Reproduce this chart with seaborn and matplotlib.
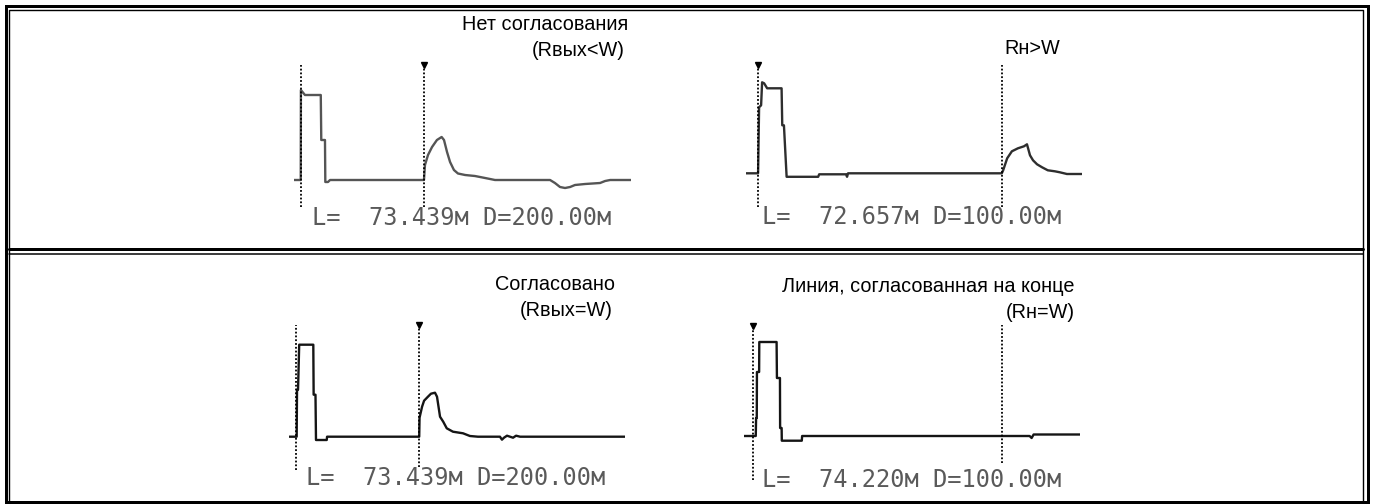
import numpy as np
import pandas as pd
import seaborn as sns
import matplotlib.pyplot as plt
from matplotlib.patches import Rectangle

W, H = 1376, 504

# Reflectogram traces: distance along the line (m) and amplitude (screen units)
x1 = [0, 4.0, 4.1, 6.5, 15.9, 16.2, 18.4, 18.6, 20.2, 21.4, 77.2, 77.8, 79.6, 82.0, 84.9, 87.7, 89.1, 90.9, 92.7, 95.0,
      97.4, 101.6, 107.5, 113.5, 119.4, 152.1, 155.0, 158.0, 161.0, 164.0, 166.9, 172.9, 181.8, 184.8, 187.8, 200]
y1 = [0, 0, 90, 85, 85, 40, 40, -2, -2, 0, 0, 15, 25, 33, 40, 43, 40, 28, 18, 10,
      6.5, 5, 4, 2, 0, 0, -3, -7, -8, -7, -5, -4, -3, -1, 0, 0]

x2 = [0, 3.6, 3.9, 4.5, 4.8, 5.4, 6.3, 10.6, 10.8, 11.3, 12.1, 21.5, 21.8, 29.8, 30.1, 30.4, 76.2, 76.6, 77.8, 79.2,
      81.0, 82.8, 83.7, 84.6, 85.5, 86.7, 88.2, 89.9, 92.0, 93.5, 95.6, 100]
y2 = [0, 0, 66, 68, 91, 90, 85, 85, 48, 48, -3.5, -3.5, -1, -1, -3.5, 0, 0, 3, 15, 22,
      25, 27, 29, 18, 13, 9, 6, 3, 2, 1, -0.7, -0.7]

x3 = [0, 4.4, 4.6, 5.2, 5.9, 14.3, 14.5, 15.6, 15.9, 22.3, 22.5, 77.4, 77.6, 79.1, 80.3, 82.6, 84.4, 86.8, 88.0, 89.8,
      91.7, 93.8, 97.5, 103.5, 107.6, 112.4, 125.5, 126.7, 127.9, 129.7, 131.5, 133.3, 135.1, 137.5, 200]
y3 = [0, 0, 47, 47, 92, 92, 42, 42, -3.3, -3.3, 0, 0, 19, 30, 36, 40, 43, 44, 40, 20,
      15, 8.4, 5, 3.4, 0.7, 0, 0, -3, -1, 1, 0, -1, 1, 0, 0]

x4 = [0, 3.5, 3.6, 3.8, 3.85, 4.5, 4.55, 9.7, 9.8, 10.7, 10.75, 11.2, 11.25, 17.2, 17.3, 85.0, 85.6, 86.2, 100]
y4 = [0, 0, 18, 18, 64, 64, 94, 94, 58, 58, 8, 8, -4.7, -4.7, 0, 0, -2, 1.5, 1.5]

cursor1 = [4.0, 3.6, 3.8, 2.6]           # left cursor, m
dist_L = [73.439, 72.657, 73.439, 74.220]  # L readout, m
range_D = [200, 100, 200, 100]            # D readout (screen range), m
titles = [["Нет согласования", "(Rвых<W)"],
          ["", "Rн>W"],
          ["Согласовано", "(Rвых=W)"],
          ["Линия, согласованная на конце", "(Rн=W)"]]

# layout (pixels) -----------------------------------------------------------
boxes = [(294, 630.7, 55, 215), (746, 1081.7, 55, 215), (289.3, 625, 315, 485), (744, 1080, 315, 485)]
ylims = [(-35, 125), (-41.7, 118.3), (-48.3, 121.7), (-49, 121)]
cur_span = [[(-27, 115), (-27, 115)], [(-34, 108), (-34, 108)],
            [(-33, 112), (-30, 112)], [(-44, 110), (-27, 111)]]
marker_on = [1, 0, 1, 0]
colors = ["#555555", "#2e2e2e", "#151515", "#151515"]
readout_pos = [(461.5, 218), (911.5, 217), (456, 478), (911.5, 480)]
title_pos = [[(628, 25), (625, 50)], [(1060, 25), (1060, 48)],
             [(615, 285), (613, 310)], [(1075, 287), (1075, 312)]]

sns.set_style("white")
fig = plt.figure(figsize=(W / 100, H / 100), dpi=100)

# double-line table frame
bg = fig.add_axes([0, 0, 1, 1])
bg.set_xlim(0, W)
bg.set_ylim(H, 0)
bg.axis("off")
px = 72 / 100
bg.add_patch(Rectangle((5.5, 5.5), 1362, 496.5, fill=False, lw=3 * px, ec="black"))
bg.plot([9, 9, 1362.5, 1362.5], [502, 9.5, 9.5, 502], color="black", lw=1.4 * px)
bg.plot([9, 1362.5], [249.3, 249.3], color="black", lw=3 * px)
bg.plot([9, 1362.5], [253.5, 253.5], color="black", lw=1.5 * px)

traces = [(x1, y1), (x2, y2), (x3, y3), (x4, y4)]
for i, (xs, ys) in enumerate(traces):
    x0, x1p, ytop, ybot = boxes[i]
    ax = fig.add_axes([x0 / W, 1 - ybot / H, (x1p - x0) / W, (ybot - ytop) / H])
    df = pd.DataFrame({"dist": xs, "amp": ys})
    sns.lineplot(data=df, x="dist", y="amp", estimator=None, sort=False,
                 color=colors[i], lw=1.7, ax=ax)
    ax.set_xlim(0, range_D[i])
    ax.set_ylim(*ylims[i])
    ax.axis("off")

    cx = [cursor1[i], cursor1[i] + dist_L[i]]
    for k in range(2):
        lo, hi = cur_span[i][k]
        ax.vlines(cx[k], lo, hi, colors="black", linestyles=(0, (1, 1.1)), lw=1.3, clip_on=False)
    mk = marker_on[i]
    ax.plot([cx[mk]], [cur_span[i][mk][1]], marker="v", ms=4, color="black", clip_on=False)

    rx, ry = readout_pos[i]
    fig.text(rx / W, 1 - ry / H, f"L=  {dist_L[i]:.3f}м D={range_D[i]:.2f}м",
             family="DejaVu Sans Mono", fontsize=17, color="#5a5a5a", ha="center", va="center")
    for k in range(2):
        if titles[i][k]:
            tx, ty = title_pos[i][k]
            fig.text(tx / W, 1 - ty / H, titles[i][k], family="Liberation Sans",
                     fontsize=14.3, color="black", ha="right", va="center")

fig.savefig("out.png", dpi=100, facecolor="white")
